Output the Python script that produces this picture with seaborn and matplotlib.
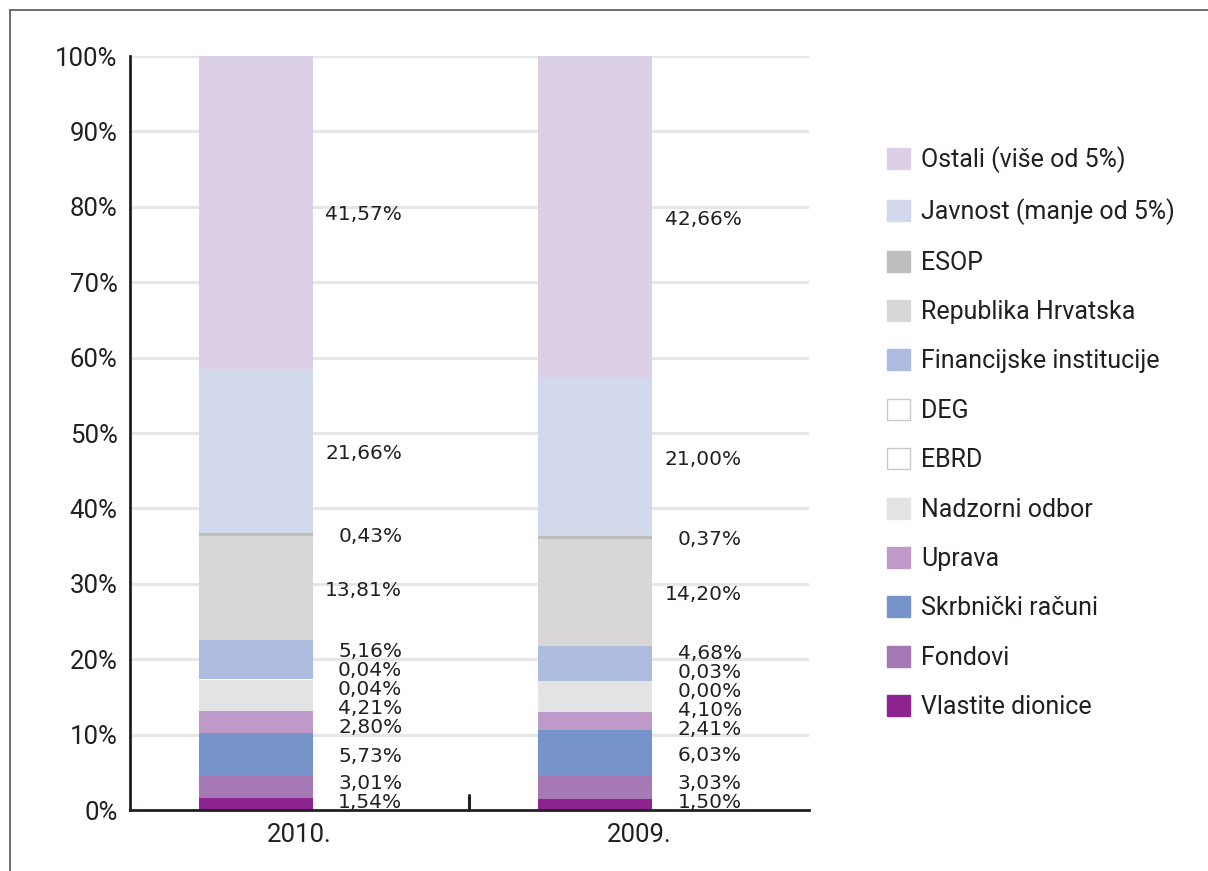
import numpy as np
import pandas as pd
import seaborn as sns
import matplotlib.pyplot as plt
from matplotlib.patches import Patch
from matplotlib.lines import Line2D

years = ["2010.", "2009."]

# series listed bottom-up as stacked in the bars
series = ["Vlastite dionice", "Fondovi", "Skrbnički računi", "Uprava",
          "Nadzorni odbor", "EBRD", "DEG", "Financijske institucije",
          "Republika Hrvatska", "ESOP", "Javnost (manje od 5%)",
          "Ostali (više od 5%)"]

vals_2010 = [1.54, 3.01, 5.73, 2.80, 4.21, 0.04, 0.04, 5.16, 13.81, 0.43, 21.66, 41.57]
vals_2009 = [1.50, 3.03, 6.03, 2.41, 4.10, 0.00, 0.03, 4.68, 14.20, 0.37, 21.00, 42.66]

colors = ["#8E248F", "#A679B4", "#7794CA", "#BF9AC8", "#E3E3E3", "#FFFFFF",
          "#FFFFFF", "#ADBBDF", "#D8D7D5", "#BDBDBD", "#D3D9EC", "#DCD0E6"]

yticks = [0, 10, 20, 30, 40, 50, 60, 70, 80, 90, 100]

df = pd.DataFrame({"2010.": vals_2010, "2009.": vals_2009}, index=series)
tops = df.cumsum()

sns.set_style("white")
plt.rcParams['font.family'] = ['DejaVu Sans']

fig = plt.figure(figsize=(12.08, 8.71), dpi=100)
ax = fig.add_axes([0.1076, 0.07, 0.5621, 0.8657])

# overplot cumulative tops, largest first, so each layer shows its own slice
for name, col in zip(series[::-1], colors[::-1]):
    sns.barplot(x=years, y=tops.loc[name, years].values, color=col,
                saturation=1, width=0.336, errorbar=None, ax=ax, zorder=3,
                linewidth=0)

x0, x1 = -0.37, 1.63
mid = (x0 + x1) / 2
ax.set_xlim(x0, x1)
ax.set_ylim(0, 100)
ax.set_yticks(yticks)
ax.set_yticklabels([f"{t}%" for t in yticks], family="Roboto", fontsize=18.5,
                   color="#231F20")
# year labels sit in the middle of each category slot
ax.set_xticks([(x0 + mid) / 2, (mid + x1) / 2])
ax.set_xticklabels(years, family="Roboto", fontsize=18.5, color="#231F20")
ax.tick_params(axis="both", length=0, pad=9)
ax.set_xlabel("")
ax.set_ylabel("")
for t in yticks[1:]:
    ax.axhline(t, color="#E6E6E6", lw=2.2, zorder=1)

for side in ["top", "right"]:
    ax.spines[side].set_visible(False)
for side in ["left", "bottom"]:
    ax.spines[side].set_color("#231F20")
    ax.spines[side].set_linewidth(2)
    ax.spines[side].set_zorder(5)

# category boundary tick on the x axis
ax.plot([mid, mid], [0, 2.0], color="#231F20", lw=2.2, zorder=5, clip_on=False)

# value labels to the right of each bar, spread so they do not collide
gap = 2.52
for i, yr in enumerate(years):
    v = df[yr].values
    pos = list(tops[yr].values - v / 2)
    for _ in range(300):
        pos[0] = max(pos[0], gap / 2)
        for k in range(1, len(pos)):
            d = pos[k] - pos[k - 1]
            if d < gap:
                s = (gap - d) / 2
                pos[k - 1] -= s
                pos[k] += s
    pos[0] = max(pos[0], gap / 2)
    for val, p in zip(v, pos):
        ax.text(i + 0.432, p - 0.3, f"{val:.2f}%".replace(".", ","),
                ha="right", va="center", fontsize=14.5, color="#231F20",
                zorder=6)

handles = [Patch(facecolor=c, edgecolor="#C8C8C8" if c == "#FFFFFF" else c,
                 linewidth=1) for c in colors]
fig.legend(handles[::-1], series[::-1], loc="upper left",
           bbox_to_anchor=(0.734, 0.832), frameon=False,
           prop={"family": "Roboto", "size": 18},
           handlelength=0.92, handleheight=0.92, handletextpad=0.45,
           labelspacing=1.01, borderaxespad=0, borderpad=0,
           labelcolor="#231F20")

# outer frame lines
fig.add_artist(Line2D([10 / 1208, 1], [1 - 10 / 871] * 2, color="#555555", lw=1.2))
fig.add_artist(Line2D([10 / 1208] * 2, [0, 1 - 10 / 871], color="#555555", lw=1.2))

fig.savefig("out.png", dpi=100)
